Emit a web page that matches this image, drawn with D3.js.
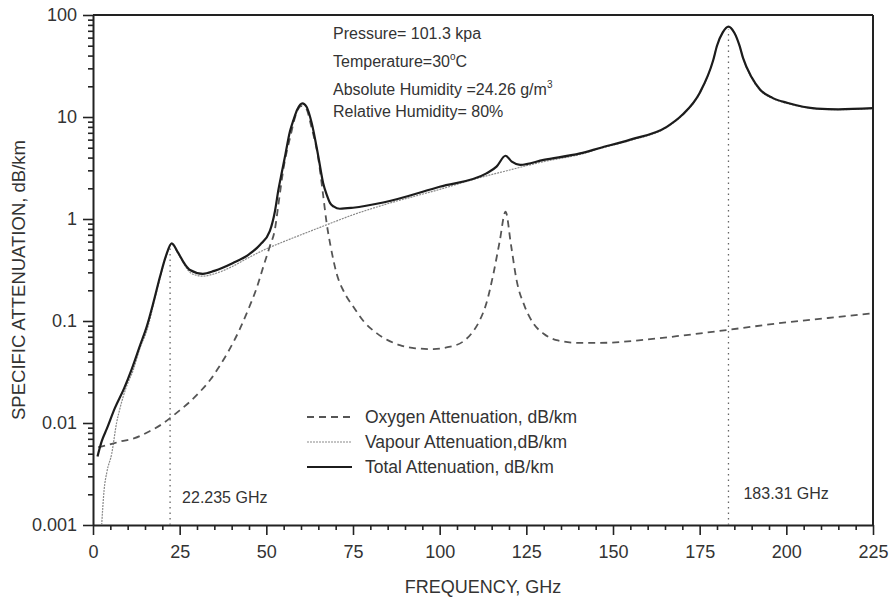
<!DOCTYPE html>
<html>
<head>
<meta charset="utf-8">
<script src="https://cdn.jsdelivr.net/npm/d3@7"></script>
<style>
  body { margin: 0; background: #fff; }
  text { font-family: "Liberation Sans", Arial, Helvetica, sans-serif; fill: #333; }
</style>
</head>
<body>
<script>
// specific attenuation vs frequency

const oxygenGHz = [1.5, 3.5, 8, 12, 16, 20, 22.7, 25, 28, 31, 34, 36, 39, 42.4, 45, 47.2, 49, 51, 52.5, 53.5,
  55, 57, 58.5, 60, 61.5, 63, 65, 66.4, 67.4, 68.5, 70.3, 72.5, 75.1, 78, 81.8, 85, 88.5, 93, 98.2, 102,
  106.8, 109.5, 111.6, 113.5, 115.5, 117.3, 119, 120.6, 122.2, 124.5, 127, 130, 133.7, 140, 146.2, 160, 170, 183.3, 200, 212, 225];
const oxygenDb = [0.0058, 0.006, 0.0066, 0.0071, 0.0082, 0.0098, 0.0115, 0.0133, 0.0162, 0.0205, 0.027, 0.034, 0.05, 0.084, 0.135, 0.21, 0.33, 0.54, 0.8, 1.4,
  3.2, 6.6, 10.5, 12.8, 12, 8, 3.9, 1.7, 0.91, 0.55, 0.29, 0.19, 0.138, 0.1, 0.076, 0.065, 0.058, 0.054, 0.053, 0.055,
  0.063, 0.078, 0.102, 0.15, 0.29, 0.6, 1.18, 0.55, 0.25, 0.14, 0.095, 0.075, 0.065, 0.061, 0.061, 0.066, 0.072, 0.082, 0.097, 0.107, 0.119];

const vapourGHz = [2.5, 3.2, 4, 5.4, 6.8, 7.8, 9.5, 11.6, 13.6, 15.5, 17.5, 19.3, 21, 22.7, 24.5, 26.5, 28, 30, 31.7, 35,
  40, 45, 50, 55, 60, 67.5, 75, 83.7, 100, 113.5, 119, 123, 130, 140.5, 146.2, 155, 165.5, 170, 175, 178.9,
  180, 181.7, 183.3, 185, 186.5, 187.5, 190, 192.4, 196, 200.2, 208.8, 215, 225];
const vapourDb = [0.001, 0.0022, 0.0033, 0.005, 0.01, 0.014, 0.022, 0.033, 0.055, 0.08, 0.148, 0.26, 0.42, 0.565, 0.46, 0.35, 0.30, 0.28, 0.275, 0.29,
  0.34, 0.42, 0.51, 0.6, 0.7, 0.88, 1.1, 1.37, 1.95, 2.65, 2.95, 3.2, 3.65, 4.3, 4.9, 5.9, 7.9, 10.4, 17, 36,
  50, 68, 76.5, 67, 50, 38, 24, 18.3, 15.2, 13.6, 12, 11.8, 12.1];

const totalGHz = [1.3, 2.5, 4, 6.3, 9, 11.2, 13.6, 15.5, 17.5, 19.3, 21, 22.7, 24.5, 26.5, 28, 31.7, 35, 40.4, 45, 48.2,
  51, 52.5, 53.5, 54.5, 55.5, 56.8, 57.8, 59, 60.4, 61.6, 63.1, 65, 66.4, 67.5, 68.4, 69.5, 71.2, 75, 83.7, 100,
  113.5, 116.4, 119, 120.8, 123.2, 130, 140.5, 146.2, 155, 165.5, 170, 175, 178.9, 180, 181.7, 183.3, 185, 186.5, 187.5, 190,
  192.4, 196, 200.2, 208.8, 215, 225];
const totalDb = [0.0047, 0.0066, 0.0088, 0.014, 0.022, 0.034, 0.058, 0.088, 0.155, 0.27, 0.43, 0.578, 0.47, 0.36, 0.316, 0.29, 0.31, 0.37, 0.45, 0.56,
  0.76, 1.2, 1.95, 2.9, 4.3, 7.2, 9.3, 12, 13.6, 12.6, 8.7, 4.1, 2.24, 1.7, 1.43, 1.32, 1.26, 1.29, 1.45, 2.07,
  2.8, 3.26, 4.17, 3.65, 3.4, 3.8, 4.4, 4.97, 6.0, 8.0, 10.5, 17.2, 36, 50, 68, 77, 67, 50, 38, 24.5,
  18.6, 15.4, 13.8, 12.1, 11.9, 12.2];

const xTicks = [0, 25, 50, 75, 100, 125, 150, 175, 200, 225];
const yTicks = [0.001, 0.01, 0.1, 1, 10, 100];
const yTickLabels = ["0.001", "0.01", "0.1", "1", "10", "100"];

const lineMarks = [22.235, 183.31];
const lineMarkLabels = ["22.235 GHz", "183.31 GHz"];

const w = 889;
const h = 598;
const margin = {left: 93, top: 15, right: 16, bottom: 73};
const iw = w - margin.left - margin.right;
const ih = h - margin.top - margin.bottom;

const svg = d3.select("body")
  .append("svg")
  .attr("width", w)
  .attr("height", h);

const g = svg.append("g")
  .attr("transform", `translate(${margin.left},${margin.top})`);

const x = d3.scaleLinear().domain([0, 225]).range([0, iw]);
const y = d3.scaleLog().domain([0.001, 100]).range([ih, 0]);

// clip so the vapour curve does not run below the axis
g.append("clipPath").attr("id", "plot")
  .append("rect").attr("width", iw).attr("height", ih);

// minor ticks first
const xMinor = d3.range(0, 226, 5).filter(d => d % 25 !== 0);
g.append("g")
  .attr("transform", `translate(0,${ih})`)
  .call(d3.axisBottom(x).tickValues(xMinor).tickSize(5).tickSizeOuter(0).tickFormat(""))
  .call(a => a.select(".domain").remove());

const yMinor = [];
for (let p = -3; p < 2; p++) {
  for (let k = 2; k <= 9; k++) yMinor.push(k * Math.pow(10, p));
}
g.append("g")
  .call(d3.axisLeft(y).tickValues(yMinor).tickSize(5).tickSizeOuter(0).tickFormat(""))
  .call(a => a.select(".domain").remove());

const xAxis = g.append("g")
  .attr("transform", `translate(0,${ih})`)
  .call(d3.axisBottom(x).tickValues(xTicks).tickSize(10).tickSizeOuter(0).tickPadding(10));

const yAxis = g.append("g")
  .call(d3.axisLeft(y).tickValues(yTicks).tickSize(10).tickSizeOuter(0).tickPadding(6)
    .tickFormat((d, i) => yTickLabels[i]));

[xAxis, yAxis].forEach(a => {
  a.selectAll("text").style("font-size", "18px").attr("fill", "#333");
  a.select(".domain").attr("stroke", "#222").attr("stroke-width", 2);
});
g.selectAll(".tick line").attr("stroke", "#222").attr("stroke-width", 1.6);

// top and right frame
g.append("line").attr("x1", 0).attr("x2", iw).attr("y1", 0).attr("y2", 0)
  .attr("stroke", "#222").attr("stroke-width", 2);
g.append("line").attr("x1", iw).attr("x2", iw).attr("y1", 0).attr("y2", ih)
  .attr("stroke", "#222").attr("stroke-width", 2);

// line frequency markers
const markTop = [0.56, 72];
lineMarks.forEach((f, i) => {
  g.append("line")
    .attr("x1", x(f)).attr("x2", x(f))
    .attr("y1", ih).attr("y2", y(markTop[i]))
    .attr("stroke", "#666").attr("stroke-width", 1.3)
    .attr("stroke-dasharray", "1.5,4");
});
g.append("text").attr("x", x(lineMarks[0]) + 12).attr("y", 488)
  .style("font-size", "16px").text(lineMarkLabels[0]);
g.append("text").attr("x", x(lineMarks[1]) + 15).attr("y", 484)
  .style("font-size", "16px").text(lineMarkLabels[1]);

const line = d3.line()
  .x(d => x(d[0]))
  .y(d => y(d[1]))
  .curve(d3.curveMonotoneX);

const plot = g.append("g").attr("clip-path", "url(#plot)");

plot.append("path")
  .datum(d3.zip(vapourGHz, vapourDb))
  .attr("fill", "none")
  .attr("stroke", "#8a8a8a")
  .attr("stroke-width", 1.2)
  .attr("stroke-dasharray", "2,1")
  .attr("d", line);

plot.append("path")
  .datum(d3.zip(oxygenGHz, oxygenDb))
  .attr("fill", "none")
  .attr("stroke", "#555")
  .attr("stroke-width", 1.8)
  .attr("stroke-dasharray", "7,5")
  .attr("d", line);

plot.append("path")
  .datum(d3.zip(totalGHz, totalDb))
  .attr("fill", "none")
  .attr("stroke", "#1c1c1c")
  .attr("stroke-width", 2.2)
  .attr("d", line);

// conditions block
const note = svg.append("g").style("font-size", "16px");
note.append("text").attr("x", 333).attr("y", 39).text("Pressure= 101.3 kpa");
const temp = note.append("text").attr("x", 333).attr("y", 67);
temp.append("tspan").text("Temperature=30");
temp.append("tspan").attr("dy", -7).style("font-size", "10px").text("o");
temp.append("tspan").attr("dy", 7).text("C");
const hum = note.append("text").attr("x", 333).attr("y", 95);
hum.append("tspan").text("Absolute Humidity =24.26 g/m");
hum.append("tspan").attr("dy", -7).style("font-size", "10px").text("3");
note.append("text").attr("x", 333).attr("y", 117).text("Relative Humidity= 80%");

// legend
const legendItems = ["Oxygen Attenuation, dB/km", "Vapour Attenuation,dB/km", "Total Attenuation, dB/km"];
const legendDash = ["7,5", "2,1", null];
const legendStroke = ["#555", "#8a8a8a", "#1c1c1c"];
const legendWidth = [1.8, 1.2, 2.2];
const legend = svg.append("g");
legendItems.forEach((t, i) => {
  const ly = 417 + i * 25;
  legend.append("line")
    .attr("x1", 307).attr("x2", 352).attr("y1", ly).attr("y2", ly)
    .attr("stroke", legendStroke[i]).attr("stroke-width", legendWidth[i])
    .attr("stroke-dasharray", legendDash[i]);
  legend.append("text").attr("x", 365).attr("y", ly + 6)
    .style("font-size", "17.5px").text(t);
});

// axis titles
svg.append("text")
  .attr("x", margin.left + iw / 2).attr("y", 593)
  .attr("text-anchor", "middle")
  .style("font-size", "18px")
  .text("FREQUENCY, GHz");

svg.append("text")
  .attr("transform", "translate(25,280) rotate(-90)")
  .attr("text-anchor", "middle")
  .style("font-size", "18.5px")
  .text("SPECIFIC ATTENUATION, dB/km");
</script>
</body>
</html>
